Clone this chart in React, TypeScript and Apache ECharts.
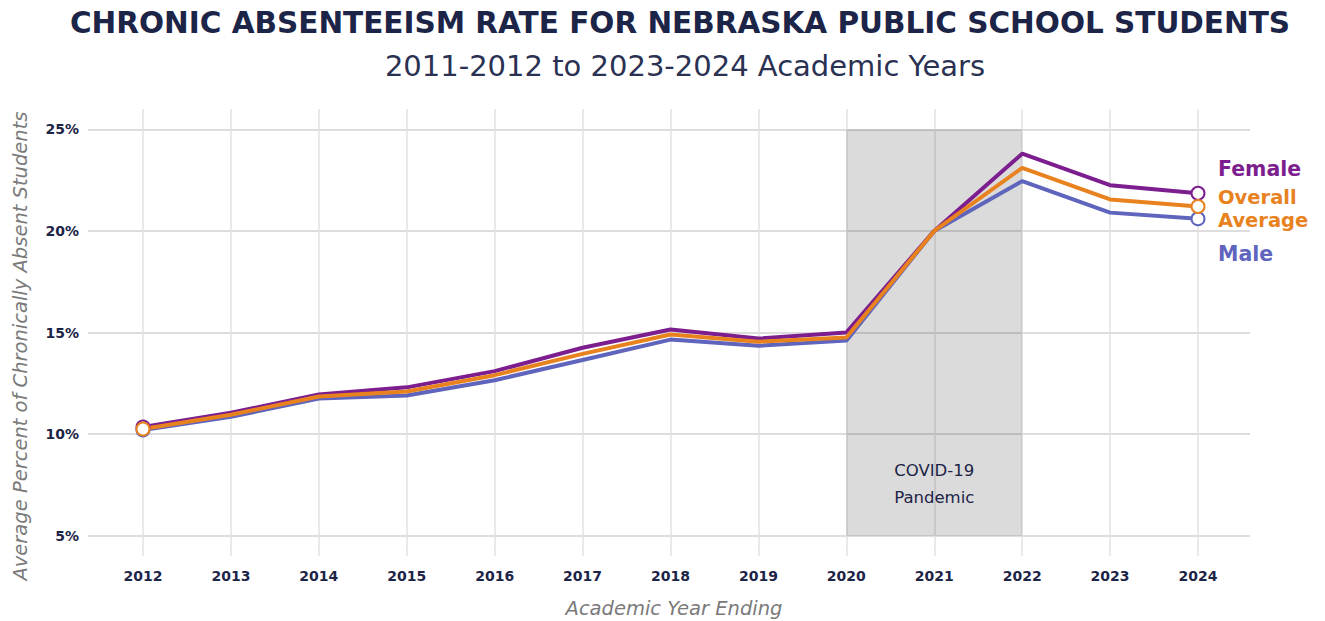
import React, { useEffect, useRef } from "react";
import * as echarts from "echarts";

const years = ["2012", "2013", "2014", "2015", "2016", "2017", "2018", "2019", "2020", "2021", "2022", "2023", "2024"];
const female = [10.35, 11.05, 11.95, 12.3, 13.1, 14.25, 15.15, 14.7, 15.0, 20.0, 23.8, 22.25, 21.85];
const overall = [10.25, 10.95, 11.85, 12.1, 12.9, 13.95, 14.9, 14.55, 14.75, 20.0, 23.1, 21.55, 21.2];
const male = [10.2, 10.85, 11.75, 11.9, 12.65, 13.65, 14.65, 14.35, 14.6, 20.0, 22.45, 20.9, 20.6];
const covidStart = "2020";
const covidEnd = "2022";
const yTicksMin = 5;
const yTicksMax = 25;

const PURPLE = "#7d1e8f";
const ORANGE = "#e8821f";
const BLUE = "#5f64bd";
const NAVY = "#1c2447";
const FONT = "DejaVu Sans";

function pts(values: number[]) {
  return values.map((v, i) =>
    i === 0 || i === values.length - 1
      ? { value: v, symbol: "circle", symbolSize: 13 }
      : { value: v, symbol: "none" }
  );
}

export default function App() {
  const ref = useRef<HTMLDivElement>(null);
  useEffect(() => {
    if (!ref.current) return;
    const chart = echarts.init(ref.current, null, { renderer: "svg" });
    const top1 = 109;
    const bottom1 = 65;
    const h1 = 621 - top1 - bottom1;
    const unit = h1 / 22;
    const mkLine = (name: string, data: number[], color: string, extra: any = {}) => ({
      name,
      type: "line",
      xAxisIndex: 0,
      yAxisIndex: 0,
      data: pts(data),
      showSymbol: true,
      lineStyle: { color, width: 4 },
      itemStyle: { color: "#ffffff", borderColor: color, borderWidth: 2 },
      z: 5,
      ...extra,
    });
    chart.setOption({
      animation: false,
      backgroundColor: "#ffffff",
      grid: [
        { left: 143, right: 127, top: top1, bottom: bottom1 },
        { left: 88, right: 75, top: top1 + unit, bottom: bottom1 + unit },
      ],
      xAxis: [
        {
          type: "category",
          gridIndex: 0,
          data: years,
          boundaryGap: false,
          axisLine: { show: false },
          axisTick: { show: false },
          axisLabel: { color: NAVY, fontFamily: FONT, fontSize: 14, fontWeight: "bold", margin: 13 },
          splitLine: { show: true, lineStyle: { color: "#e2e2e2", width: 1.5 } },
        },
        {
          type: "value",
          gridIndex: 1,
          min: 0,
          max: 1,
          show: false,
        },
      ],
      yAxis: [
        { type: "value", gridIndex: 0, min: 4, max: 26, show: false },
        {
          type: "value",
          gridIndex: 1,
          min: yTicksMin,
          max: yTicksMax,
          interval: 5,
          axisLine: { show: false },
          axisTick: { show: false },
          axisLabel: {
            formatter: "{value}%",
            color: NAVY,
            fontFamily: FONT,
            fontSize: 14,
            fontWeight: "bold",
            margin: 9,
          },
          splitLine: { show: true, lineStyle: { color: "#d2d2d2", width: 1.5 } },
        },
      ],
      series: [
        mkLine("Male", male, BLUE, {
          markArea: {
            silent: true,
            itemStyle: { color: "rgba(0,0,0,0.14)" },
            label: {
              show: true,
              position: "insideBottom",
              distance: 25,
              formatter: "COVID-19\nPandemic",
              color: NAVY,
              fontFamily: FONT,
              fontSize: 16.5,
              lineHeight: 27,
            },
            data: [[{ xAxis: covidStart, yAxis: yTicksMin }, { xAxis: covidEnd, yAxis: yTicksMax }]],
          },
        }),
        mkLine("Female", female, PURPLE),
        mkLine("Overall Average", overall, ORANGE),
      ],
      graphic: [
        {
          type: "text",
          x: 680,
          y: 23,
          style: {
            text: "CHRONIC ABSENTEEISM RATE FOR NEBRASKA PUBLIC SCHOOL STUDENTS",
            fill: NAVY,
            font: `bold 29.5px "${FONT}"`,
            textAlign: "center",
            textVerticalAlign: "middle",
          },
        },
        {
          type: "text",
          x: 685,
          y: 66,
          style: {
            text: "2011-2012 to 2023-2024 Academic Years",
            fill: "#2a3152",
            font: `29px "${FONT}"`,
            textAlign: "center",
            textVerticalAlign: "middle",
          },
        },
        {
          type: "text",
          x: 20,
          y: 346,
          rotation: Math.PI / 2,
          style: {
            text: "Average Percent of Chronically Absent Students",
            fill: "#7a7a7a",
            font: `italic 19.5px "${FONT}"`,
            textAlign: "center",
            textVerticalAlign: "middle",
          },
        },
        {
          type: "text",
          x: 674,
          y: 608,
          style: {
            text: "Academic Year Ending",
            fill: "#7a7a7a",
            font: `italic 19.5px "${FONT}"`,
            textAlign: "center",
            textVerticalAlign: "middle",
          },
        },
        {
          type: "text",
          x: 1218,
          y: 169,
          style: { text: "Female", fill: PURPLE, font: `bold 20.5px "${FONT}"`, textVerticalAlign: "middle" },
        },
        {
          type: "text",
          x: 1218,
          y: 197,
          style: { text: "Overall", fill: ORANGE, font: `bold 19.5px "${FONT}"`, textVerticalAlign: "middle" },
        },
        {
          type: "text",
          x: 1218,
          y: 220,
          style: { text: "Average", fill: ORANGE, font: `bold 19.5px "${FONT}"`, textVerticalAlign: "middle" },
        },
        {
          type: "text",
          x: 1218,
          y: 254,
          style: { text: "Male", fill: BLUE, font: `bold 20.5px "${FONT}"`, textVerticalAlign: "middle" },
        },
      ],
    });
    return () => chart.dispose();
  }, []);
  return (
    <div
      ref={ref}
      style={{ position: "fixed", left: 0, top: 0, width: 1325, height: 621, background: "#fff" }}
    />
  );
}
